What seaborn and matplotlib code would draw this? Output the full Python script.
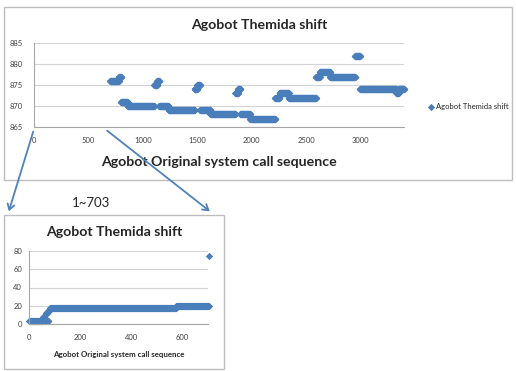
import numpy as np
import pandas as pd
import matplotlib
matplotlib.use("Agg")
import matplotlib.pyplot as plt
from matplotlib.patches import Rectangle, FancyArrowPatch
import seaborn as sns

# full sequence, runs of (first call, last call, shift)
top_start = [700, 780, 801, 861, 1106, 1131, 1151, 1236, 1476, 1501, 1526, 1621, 1851, 1876,
             1896, 1986, 2216, 2256, 2341, 2591, 2626, 2721, 2951, 2996, 3331, 3351]
top_end = [779, 800, 860, 1105, 1130, 1150, 1235, 1475, 1500, 1525, 1620, 1850, 1875, 1895,
           1985, 2215, 2255, 2340, 2590, 2625, 2720, 2950, 2995, 3330, 3350, 3400]
top_shift = [876, 877, 871, 870, 875, 876, 870, 869, 874, 875, 869, 868, 873, 874,
             868, 867, 872, 873, 872, 877, 878, 877, 882, 874, 873, 874]

# zoom on calls 1~703
low_start = [1, 55, 61, 67, 73, 77, 83, 89, 576, 703]
low_end = [54, 60, 66, 72, 76, 82, 88, 575, 702, 703]
low_shift = [3, 8, 3, 12, 3, 15, 17, 18, 20, 74]

top_xticks = [0, 500, 1000, 1500, 2000, 2500, 3000]
top_yticks = [865, 870, 875, 880, 885]
low_xticks = [0, 200, 400, 600]
low_yticks = [0, 20, 40, 60, 80]

title = "Agobot Themida shift"
xtitle = "Agobot Original system call sequence"
blue = "#4A7EBB"


def expand(starts, ends, values):
    xs, ys = [], []
    for a, b, v in zip(starts, ends, values):
        idx = np.arange(a, b + 1)
        xs.append(idx)
        ys.append(np.full(len(idx), v))
    return pd.DataFrame({"call": np.concatenate(xs), "shift": np.concatenate(ys)})


top_df = expand(top_start, top_end, top_shift)
low_df = expand(low_start, low_end, low_shift)

sns.set_style("white")
plt.rcParams["font.family"] = ["Lato", "DejaVu Sans"]

W, H = 516, 371
fx = lambda px: px / W
fy = lambda py: 1 - py / H

fig = plt.figure(figsize=(W / 100, H / 100), dpi=100)

# chart frames
fig.add_artist(Rectangle((fx(4), fy(180)), (512 - 4) / W, (180 - 7) / H, transform=fig.transFigure,
                         fill=False, ec="#BDBDBD", lw=1.0, zorder=0))
fig.add_artist(Rectangle((fx(4), fy(369)), (224 - 4) / W, (369 - 215) / H, transform=fig.transFigure,
                         fill=False, ec="#BDBDBD", lw=1.0, zorder=0))

ax1 = fig.add_axes([fx(34), fy(127), (404 - 34) / W, (127 - 43) / H])
ax2 = fig.add_axes([fx(29), fy(324), (208 - 29) / W, (324 - 251) / H])

sns.scatterplot(data=top_df, x="call", y="shift", marker="D", s=14, color=blue, linewidth=0,
                ax=ax1, label=title, clip_on=False)
sns.scatterplot(data=low_df, x="call", y="shift", marker="D", s=14, color=blue, linewidth=0,
                ax=ax2, legend=False, clip_on=False)

for ax, xt, yt, xl, yl, ypad in [(ax1, top_xticks, top_yticks, (0, 3400), (865, 885), 8),
                                 (ax2, low_xticks, low_yticks, (0, 700), (0, 80), 5)]:
    ax.set_facecolor("none")
    ax.set_xlim(*xl)
    ax.set_ylim(*yl)
    ax.set_xticks(xt)
    ax.set_yticks(yt)
    ax.set_xlabel("")
    ax.set_ylabel("")
    ax.yaxis.grid(True, color="#D4D4D4", lw=0.8)
    ax.xaxis.grid(False)
    for side in ["top", "right"]:
        ax.spines[side].set_visible(False)
    for side in ["left", "bottom"]:
        ax.spines[side].set_color("#A6A6A6")
        ax.spines[side].set_linewidth(0.8)
    ax.tick_params(axis="x", length=2.5, width=0.6, color="#A6A6A6", pad=5, labelsize=5.5, labelcolor="#404040")
    ax.tick_params(axis="y", length=0, pad=ypad, labelsize=5.5, labelcolor="#404040")

ax1.legend(loc="center left", bbox_to_anchor=(fx(422), fy(107)), bbox_transform=fig.transFigure,
           frameon=False, fontsize=5.5, handlelength=0.6, handletextpad=0.3, markerscale=1.0)

# texts
fig.text(fx(259), fy(25), title, ha="center", va="center", fontsize=10.2, fontweight="bold")
fig.text(fx(219), fy(162), xtitle, ha="center", va="center", fontsize=10.2, fontweight="bold")
fig.text(fx(114), fy(232), title, ha="center", va="center", fontsize=10.2, fontweight="bold")
fig.text(fx(119), fy(354), xtitle, ha="center", va="center", fontsize=5.7, fontweight="bold")
fig.text(fx(91), fy(203), "1~703", ha="center", va="center", fontsize=9.5)

# zoom arrows
for p0, p1 in [((34, 129), (8, 214)), ((105, 129), (212, 213))]:
    fig.add_artist(FancyArrowPatch((fx(p0[0]), fy(p0[1])), (fx(p1[0]), fy(p1[1])),
                                   transform=fig.transFigure, arrowstyle="->,head_length=4,head_width=2.5",
                                   color="#4F81BD", lw=1.3, zorder=5))

fig.savefig("out.png", dpi=100)
plt.close(fig)
